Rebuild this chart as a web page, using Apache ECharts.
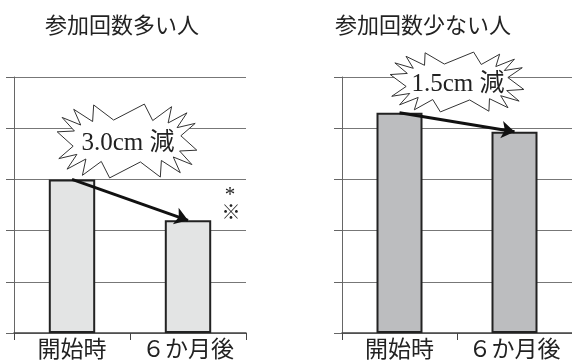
<!DOCTYPE html>
<html>
<head>
<meta charset="utf-8">
<script src="https://cdn.jsdelivr.net/npm/echarts@6/dist/echarts.min.js"></script>
<style>
  html, body { margin: 0; padding: 0; background: #fff; }
  #main { width: 572px; height: 363px; }
</style>
</head>
<body>
<div id="main"></div>
<script>
// data (y axis has no labels; one gridline = one unit)
const categories = ['開始時', '６か月後'];
const manyValues = [3.0, 2.2];
const fewValues = [4.3, 3.93];
const titles = ['参加回数多い人', '参加回数少ない人'];
const badges = ['3.0cm 減', '1.5cm 減'];

const cjk = '"Noto Sans CJK JP", sans-serif';
const serif = '"Liberation Serif", "Noto Sans CJK JP", serif';

// zigzag burst outline, boxy (superellipse) so the text fits inside
function burst(cx, cy, rx, ry, irx, iry, n) {
    const pts = [];
    const e = 0.6;
    for (let i = 0; i < n * 2; i++) {
        const a = Math.PI * i / n - Math.PI / 2 + Math.PI / (2 * n);
        const c = Math.cos(a), s = Math.sin(a);
        const outer = i % 2 === 0;
        pts.push([
            cx + Math.sign(c) * Math.pow(Math.abs(c), e) * (outer ? rx : irx),
            cy + Math.sign(s) * Math.pow(Math.abs(s), e) * (outer ? ry : iry)
        ]);
    }
    return pts;
}

function badge(cx, cy, rx, ry, irx, iry, text) {
    return [{
        type: 'polygon',
        z: 10,
        shape: { points: burst(cx, cy, rx, ry, irx, iry, 16) },
        style: { fill: '#fff', stroke: '#333', lineWidth: 1 }
    }, {
        type: 'text',
        z: 11,
        x: cx + 1,
        y: cy + 2,
        style: {
            text: text,
            font: '25px ' + serif,
            fill: '#222',
            align: 'center',
            verticalAlign: 'middle'
        }
    }];
}

function yAxis(i) {
    return {
        gridIndex: i,
        type: 'value',
        min: 0,
        max: 5,
        interval: 1,
        axisLabel: { show: false },
        axisLine: { show: true, lineStyle: { color: '#666', width: 1 } },
        axisTick: { show: true, length: 8, lineStyle: { color: '#666' } },
        splitLine: { lineStyle: { color: '#777', width: 1 } }
    };
}

function xAxis(i) {
    return {
        gridIndex: i,
        type: 'category',
        data: categories,
        axisLine: { lineStyle: { color: '#444', width: 1.5 } },
        axisTick: { show: true, length: 7, lineStyle: { color: '#444' } },
        axisLabel: { interval: 0, hideOverlap: false, fontSize: 23, color: '#222', margin: 4, fontFamily: cjk }
    };
}

function barSeries(i, values, fill) {
    return {
        type: 'bar',
        xAxisIndex: i,
        yAxisIndex: i,
        data: values,
        barWidth: '40%',
        itemStyle: { color: fill, borderColor: '#222', borderWidth: 2 },
        markLine: {
            silent: true,
            symbol: ['none', 'arrow'],
            symbolSize: 13,
            label: { show: false },
            lineStyle: { color: '#111', width: 3, type: 'solid' },
            data: [[{ coord: [0, values[0]] }, { coord: [1, values[1]] }]]
        }
    };
}

const chart = echarts.init(document.getElementById('main'));
chart.setOption({
    animation: false,
    backgroundColor: '#fff',
    title: [
        { text: titles[0], left: 117, top: 9, textAlign: 'center',
          textStyle: { fontSize: 22, fontWeight: 'normal', color: '#222', fontFamily: cjk } },
        { text: titles[1], left: 418, top: 9, textAlign: 'center',
          textStyle: { fontSize: 22, fontWeight: 'normal', color: '#222', fontFamily: cjk } }
    ],
    grid: [
        { left: 14, top: 77, width: 232, height: 256 },
        { left: 342, top: 77, width: 232, height: 256 }
    ],
    xAxis: [xAxis(0), xAxis(1)],
    yAxis: [yAxis(0), yAxis(1)],
    series: [
        barSeries(0, manyValues, '#e3e4e4'),
        barSeries(1, fewValues, '#bcbdbf')
    ],
    graphic: [
        ...badge(127, 141, 70, 37, 54, 21, badges[0]),
        ...badge(457, 82, 67, 30, 51, 18, badges[1]),
        { type: 'text', x: 230, y: 195, z: 11,
          style: { text: '*', font: '21px ' + serif, fill: '#222', align: 'center', verticalAlign: 'middle' } },
        { type: 'text', x: 231, y: 212, z: 11,
          style: { text: '※', font: '19px ' + cjk, fill: '#222', align: 'center', verticalAlign: 'middle' } }
    ]
});
</script>
</body>
</html>
